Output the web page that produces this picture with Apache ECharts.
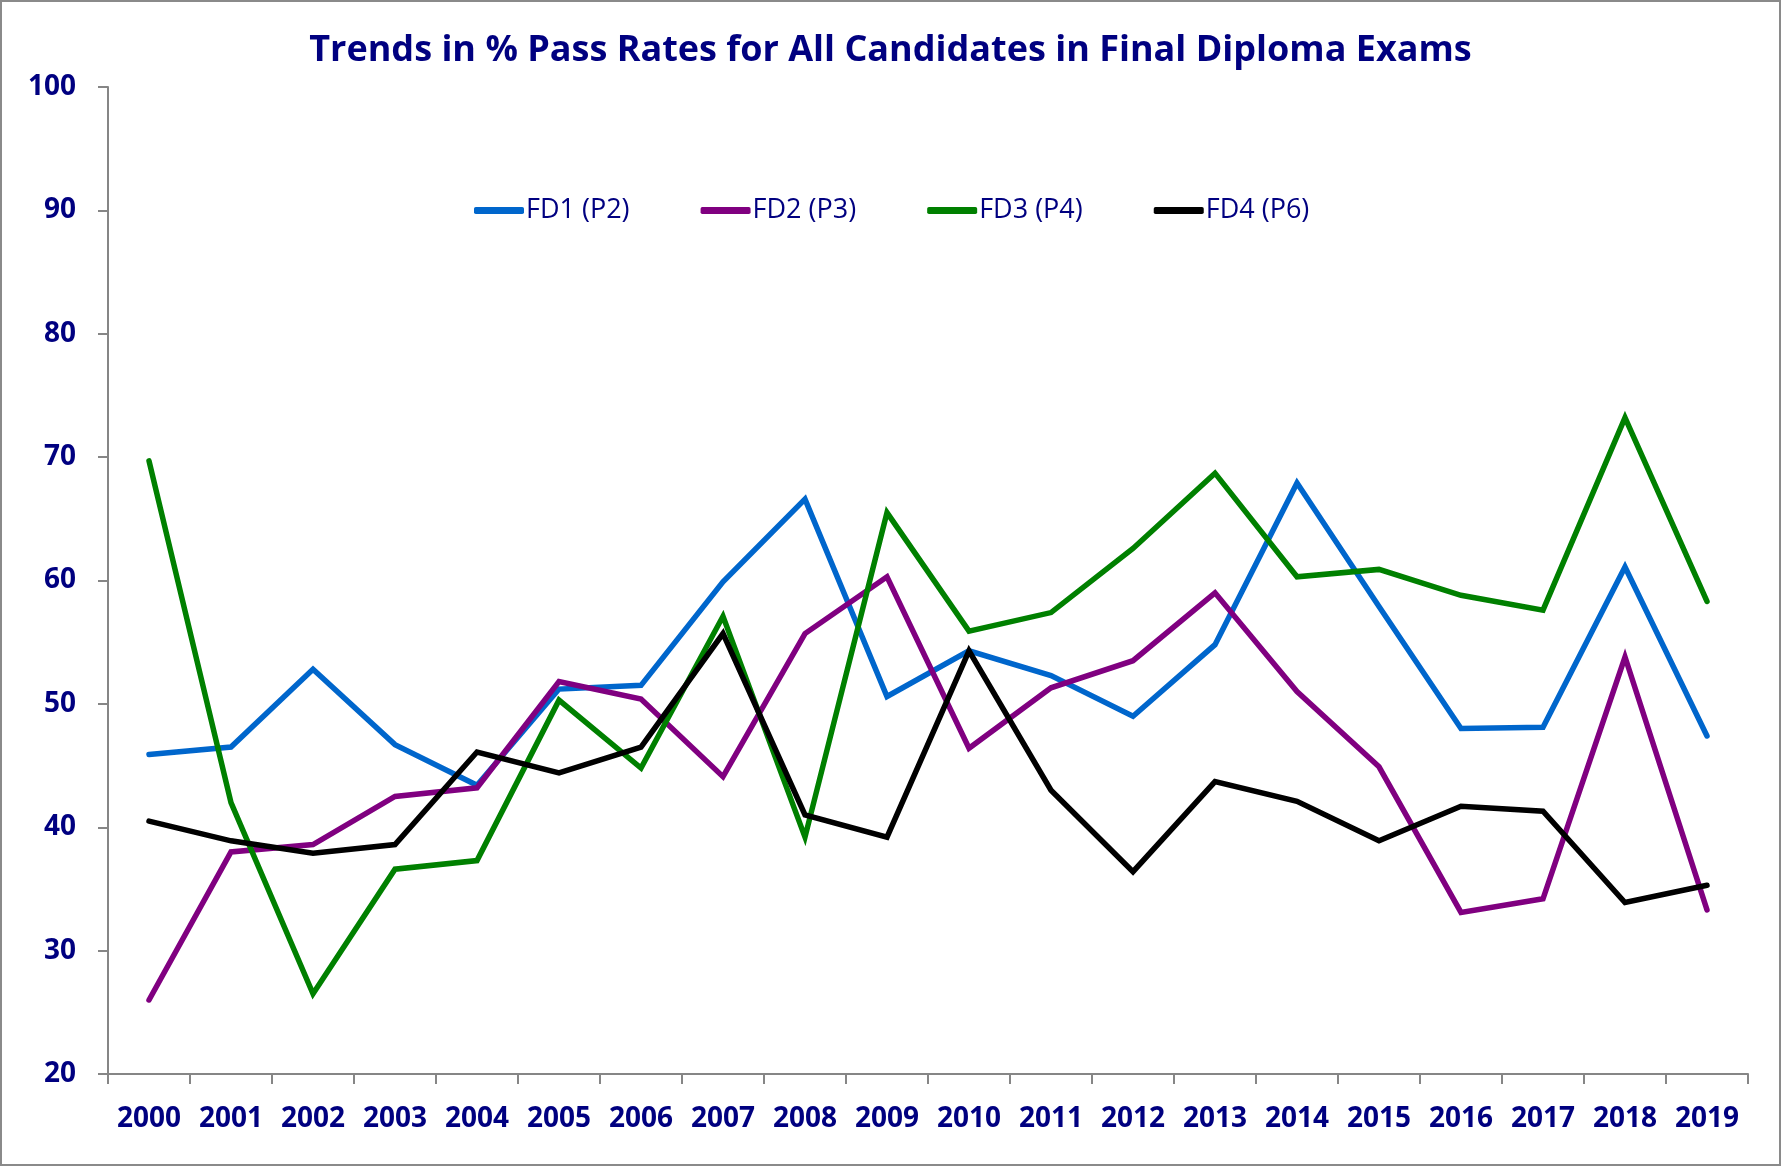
<!DOCTYPE html>
<html>
<head>
<meta charset="utf-8">
<title>Trends in % Pass Rates</title>
<script src="https://cdn.jsdelivr.net/npm/echarts@6/dist/echarts.min.js"></script>
<style>
html,body{margin:0;padding:0;background:#fff;}
#chart{width:1781px;height:1166px;}
</style>
</head>
<body>
<div id="chart"></div>
<script>
// data
var years = ['2000','2001','2002','2003','2004','2005','2006','2007','2008','2009',
             '2010','2011','2012','2013','2014','2015','2016','2017','2018','2019']
var fd1 = [45.9,46.5,52.8,46.7,43.4,51.2,51.5,59.9,66.6,50.6,54.3,52.3,49.0,54.8,67.9,57.9,48.0,48.1,61.1,47.4]
var fd2 = [26.0,38.0,38.6,42.5,43.2,51.8,50.4,44.1,55.7,60.3,46.4,51.3,53.5,59.0,51.0,44.9,33.1,34.2,53.8,33.3]
var fd3 = [69.7,42.0,26.5,36.6,37.3,50.3,44.8,57.1,39.2,65.5,55.9,57.4,62.6,68.7,60.3,60.9,58.8,57.6,73.2,58.3]
var fd4 = [40.5,38.9,37.9,38.6,46.1,44.4,46.5,55.7,41.0,39.2,54.3,43.0,36.4,43.7,42.1,38.9,41.7,41.3,33.9,35.3]
var names = ['FD1 (P2)','FD2 (P3)','FD3 (P4)','FD4 (P6)']
var colors = ['#0066cc','#800080','#008000','#000000']

var navy = '#000080'
var axisGrey = '#868686'
var labelFont = "'Open Sans', 'Liberation Sans', sans-serif"

var chart = echarts.init(document.getElementById('chart'))

function mkSeries(i, data){
    return {
        name: names[i],
        type: 'line',
        data: data,
        symbol: 'none',
        lineStyle: { width: 5.5, color: colors[i], cap: 'round', join: 'miter' },
        itemStyle: { color: colors[i] },
        z: 2 + i
    }
}

var options = {
    animation: false,
    backgroundColor: '#fff',
    title: {
        text: 'Trends in % Pass Rates for All Candidates in Final Diploma Exams',
        left: 'center',
        top: 28,
        textStyle: {
            color: navy,
            fontWeight: 'bold',
            fontFamily: labelFont,
            fontSize: 36
        }
    },
    legend: {
        left: 469,
        top: 192,
        itemWidth: 50,
        itemHeight: 7,
        itemGap: 71,
        icon: 'roundRect',
        data: names,
        textStyle: { color: navy, fontFamily: labelFont, fontSize: 27, padding: [0,0,0,-3] }
    },
    grid: { left: 108, right: 33, top: 87, bottom: 92, containLabel: false },
    xAxis: {
        type: 'category',
        data: years,
        boundaryGap: true,
        axisLine: { lineStyle: { color: axisGrey, width: 2 } },
        axisTick: { show: true, interval: 0, length: 10, lineStyle: { color: axisGrey, width: 2 } },
        axisLabel: { interval: 0, margin: 31, color: navy, fontWeight: 'bold', fontFamily: labelFont, fontSize: 28 },
        splitLine: { show: false }
    },
    yAxis: {
        type: 'value',
        min: 20,
        max: 100,
        interval: 10,
        axisLine: { show: true, lineStyle: { color: axisGrey, width: 2 } },
        axisTick: { show: true, length: 10, lineStyle: { color: axisGrey, width: 2 } },
        axisLabel: { margin: 32, color: navy, fontWeight: 'bold', fontFamily: labelFont, fontSize: 28 },
        splitLine: { show: false }
    },
    // chart area border
    graphic: [{
        type: 'rect',
        shape: { x: 1, y: 1, width: 1779, height: 1164 },
        style: { fill: 'none', stroke: '#8a8a8a', lineWidth: 2 },
        silent: true
    }],
    series: [
        mkSeries(0, fd1),
        mkSeries(1, fd2),
        mkSeries(2, fd3),
        mkSeries(3, fd4)
    ]
}

chart.setOption(options)
</script>
</body>
</html>
